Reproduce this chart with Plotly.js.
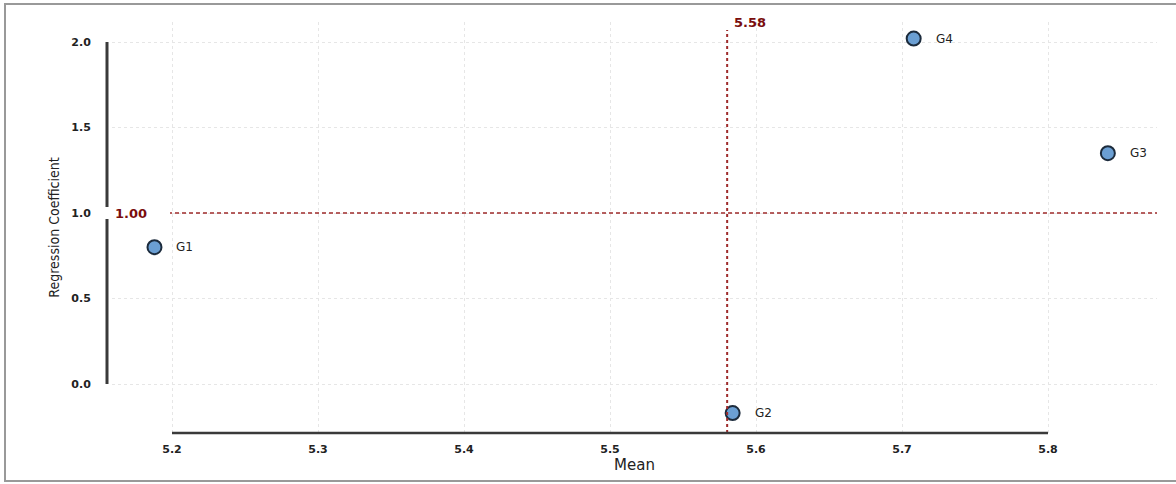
<!DOCTYPE html>
<html>
<head>
<meta charset="utf-8">
<script src="https://cdn.plot.ly/plotly-3.0.1.min.js"></script>
<style>html,body{margin:0;padding:0;background:#fff;}#chart{width:1176px;height:484px;}</style>
</head>
<body>
<div id="chart"></div>
<script>
const groups = ["G1", "G2", "G3", "G4"];
const means = [5.188, 5.584, 5.841, 5.708];
const coefficients = [0.80, -0.17, 1.35, 2.02];
const xTicks = [5.2, 5.3, 5.4, 5.5, 5.6, 5.7, 5.8];
const yTicks = [0.0, 0.5, 1.0, 1.5, 2.0];
const refCoefficient = 1.0;

const meanOfMeans = means.reduce((a, b) => a + b, 0) / means.length;

const W = 1176, H = 484;
const L = 112, R = 19, T = 22, B = 51;
const pw = W - L - R, ph = H - T - B;
const px = p => (p - L) / pw;
const py = p => (H - B - p) / ph;

const red = "#9e2b2b";
const darkRed = "#7a0d0d";

const trace = {
  x: means, y: coefficients, type: "scatter", mode: "markers",
  marker: {size: 14, color: "#6b9fd3", line: {color: "#1c2b3c", width: 2}},
  hoverinfo: "skip", showlegend: false
};

const labelAnn = groups.map((g, i) => ({
  x: means[i], y: coefficients[i], xref: "x", yref: "y",
  text: g, showarrow: false, xanchor: "left", yanchor: "middle", xshift: 20,
  font: {family: "DejaVu Sans", size: 12, color: "#222"}
}));

const layout = {
  width: W, height: H,
  margin: {l: L, r: R, t: T, b: B, pad: 0},
  paper_bgcolor: "#fff", plot_bgcolor: "#fff",
  xaxis: {
    range: [5.2 - 60 / 1460, 5.2 + 985 / 1460],
    tickvals: xTicks, ticktext: xTicks.map(v => v.toFixed(1)),
    showgrid: true, gridcolor: "#e6e6e6", griddash: "dot", gridwidth: 1,
    zeroline: false, showline: false,
    ticks: "outside", ticklen: 6, tickcolor: "rgba(0,0,0,0)",
    tickfont: {family: "DejaVu Sans", size: 11, color: "#222", weight: "bold"},
    title: {text: "Mean", standoff: 2, font: {family: "DejaVu Sans", size: 15, color: "#222"}}
  },
  yaxis: {
    range: [-49 / 171, 362 / 171],
    tickvals: yTicks, ticktext: yTicks.map(v => v.toFixed(1)),
    showgrid: true, gridcolor: "#e6e6e6", griddash: "dot", gridwidth: 1,
    zeroline: false, showline: false,
    ticks: "outside", ticklen: 18, tickcolor: "rgba(0,0,0,0)",
    tickfont: {family: "DejaVu Sans", size: 11, color: "#222", weight: "bold"},
    title: {text: "Regression Coefficient", standoff: 8,
      font: {family: "Liberation Sans Narrow, DejaVu Sans Condensed, sans-serif", size: 14, color: "#222"}}
  },
  shapes: [
    {type: "line", xref: "paper", yref: "y", x0: 0, x1: 1, y0: refCoefficient, y1: refCoefficient,
     line: {color: red, width: 1.5, dash: "4px,3px"}, layer: "above"},
    {type: "line", xref: "x", yref: "paper", x0: meanOfMeans, x1: meanOfMeans, y0: 0, y1: py(30),
     line: {color: red, width: 2, dash: "dot"}, layer: "above"},
    {type: "line", xref: "paper", yref: "y", x0: px(107), x1: px(107), y0: yTicks[0], y1: yTicks[yTicks.length - 1],
     line: {color: "#3a3a3a", width: 3}, layer: "above"},
    {type: "line", xref: "x", yref: "paper", x0: xTicks[0], x1: xTicks[xTicks.length - 1], y0: 0, y1: 0,
     line: {color: "#3a3a3a", width: 2.5}, layer: "above"},
    {type: "rect", xref: "paper", yref: "paper", x0: px(103), x1: px(170), y0: py(219), y1: py(207),
     fillcolor: "#fff", line: {width: 0}, layer: "above"},
    {type: "rect", xref: "paper", yref: "paper", x0: px(5), x1: px(1190), y0: py(481), y1: py(4),
     fillcolor: "rgba(0,0,0,0)", line: {color: "#999", width: 2}, layer: "above"}
  ],
  annotations: labelAnn.concat([
    {x: px(113), y: refCoefficient, xref: "paper", yref: "y", text: refCoefficient.toFixed(2),
     showarrow: false, xanchor: "left", yanchor: "middle",
     font: {family: "DejaVu Sans", size: 13, color: darkRed, weight: "bold"}},
    {x: meanOfMeans, y: py(22), xref: "x", yref: "paper", text: meanOfMeans.toFixed(2),
     showarrow: false, xanchor: "left", yanchor: "middle", xshift: 5,
     font: {family: "DejaVu Sans", size: 13, color: darkRed, weight: "bold"}}
  ])
};

Plotly.newPlot("chart", [trace], layout, {staticPlot: true, displayModeBar: false});
</script>
</body>
</html>
